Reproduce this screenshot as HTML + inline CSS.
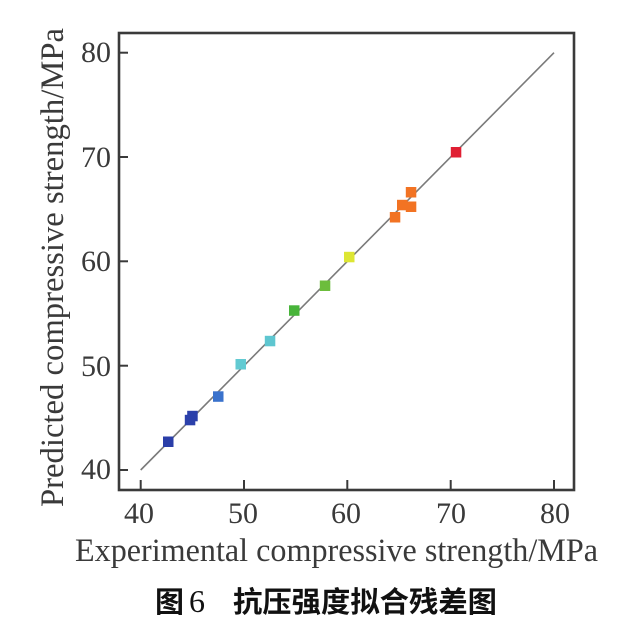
<!DOCTYPE html>
<html>
<head>
<meta charset="utf-8">
<style>
html,body{margin:0;padding:0;background:#fff;}
svg{display:block;}
</style>
</head>
<body>
<svg width="640" height="640" viewBox="0 0 640 640" xmlns="http://www.w3.org/2000/svg">
  <rect x="0" y="0" width="640" height="640" fill="#fff"/>
  <!-- diagonal -->
  <line x1="140.7" y1="470" x2="554" y2="52.7" stroke="#7a7a7a" stroke-width="1.6"/>
  <!-- frame -->
  <rect x="119" y="33" width="455" height="457" fill="none" stroke="#3a3a3a" stroke-width="2.6"/>
  <!-- x ticks -->
  <g stroke="#3a3a3a" stroke-width="2">
    <line x1="140.7" y1="490" x2="140.7" y2="480"/>
    <line x1="244" y1="490" x2="244" y2="480"/>
    <line x1="347.3" y1="490" x2="347.3" y2="480"/>
    <line x1="450.7" y1="490" x2="450.7" y2="480"/>
    <line x1="554" y1="490" x2="554" y2="480"/>
    <!-- y ticks -->
    <line x1="119" y1="470" x2="128" y2="470"/>
    <line x1="119" y1="365.7" x2="128" y2="365.7"/>
    <line x1="119" y1="261.3" x2="128" y2="261.3"/>
    <line x1="119" y1="157" x2="128" y2="157"/>
    <line x1="119" y1="52.7" x2="128" y2="52.7"/>
  </g>
  <!-- x tick labels -->
  <g font-family="'Liberation Serif', serif" font-size="30" fill="#3a3a3a" text-anchor="middle">
    <text x="139" y="523">40</text>
    <text x="243" y="523">50</text>
    <text x="346" y="523">60</text>
    <text x="451" y="523">70</text>
    <text x="555" y="523">80</text>
  </g>
  <!-- y tick labels -->
  <g font-family="'Liberation Serif', serif" font-size="30" fill="#3a3a3a" text-anchor="end">
    <text x="111" y="479">40</text>
    <text x="111" y="376">50</text>
    <text x="111" y="271">60</text>
    <text x="111" y="167">70</text>
    <text x="111" y="62">80</text>
  </g>
  <!-- x label -->
  <text x="75" y="561" font-family="'Liberation Serif', serif" font-size="33" fill="#3a3a3a" textLength="523" lengthAdjust="spacingAndGlyphs">Experimental compressive strength/MPa</text>
  <!-- y label -->
  <text transform="translate(63,507) rotate(-90)" x="0" y="0" font-family="'Liberation Serif', serif" font-size="33" fill="#3a3a3a" textLength="479" lengthAdjust="spacingAndGlyphs">Predicted compressive strength/MPa</text>
  <!-- markers -->
  <g>
    <rect x="163" y="436.5" width="10.5" height="10.5" fill="#2a3ea8"/>
    <rect x="184.8" y="414.8" width="10.5" height="10.5" fill="#2b40aa"/>
    <rect x="187.2" y="410.8" width="10.5" height="10.5" fill="#2b40aa"/>
    <rect x="213" y="391.3" width="10.5" height="10.5" fill="#3a72cc"/>
    <rect x="235.5" y="359" width="10.5" height="10.5" fill="#62cad2"/>
    <rect x="264.8" y="335.8" width="10.5" height="10.5" fill="#5ec6d0"/>
    <rect x="289" y="305.3" width="10.5" height="10.5" fill="#48b43a"/>
    <rect x="319.8" y="280.5" width="10.5" height="10.5" fill="#6cbd3c"/>
    <rect x="344" y="251.8" width="10.5" height="10.5" fill="#dde633"/>
    <rect x="389.8" y="212" width="10.5" height="10.5" fill="#f27323"/>
    <rect x="397" y="199.8" width="10.5" height="10.5" fill="#f27323"/>
    <rect x="405.8" y="201.5" width="10.5" height="10.5" fill="#f27323"/>
    <rect x="405.8" y="187" width="10.5" height="10.5" fill="#f27323"/>
    <rect x="450.8" y="147" width="10.5" height="10.5" fill="#e01f33"/>
  </g>
  <!-- caption -->
  <g fill="#111">
    <text x="155" y="612" font-family="'Liberation Sans', 'Noto Sans CJK SC', sans-serif" font-size="29" font-weight="bold">图</text>
    <text x="189" y="612" font-family="'Liberation Serif', serif" font-size="32">6</text>
    <text x="233" y="612" font-family="'Liberation Sans', 'Noto Sans CJK SC', sans-serif" font-size="29" font-weight="bold" textLength="264" lengthAdjust="spacingAndGlyphs">抗压强度拟合残差图</text>
  </g>
</svg>
</body>
</html>
